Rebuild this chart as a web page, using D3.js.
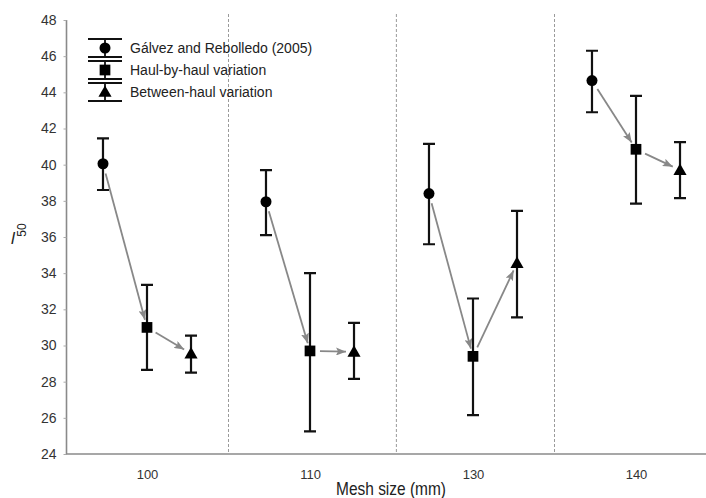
<!DOCTYPE html>
<html>
<head>
<meta charset="utf-8">
<script src="https://cdn.jsdelivr.net/npm/d3@7"></script>
<style>
  html, body { margin: 0; padding: 0; background: #fff; }
  svg { display: block; }
  text { font-family: "Liberation Sans", Arial, sans-serif; }
</style>
</head>
<body>
<svg id="chart" width="706" height="498"></svg>
<script>
// ---- data ----
const categories = ["100", "110", "130", "140"];
const seriesNames = ["Gálvez and Rebolledo (2005)", "Haul-by-haul variation", "Between-haul variation"];
const seriesSymbols = ["circle", "square", "triangle"];

const galvezMean = [40.05, 37.95, 38.40, 44.65];
const galvezLow  = [38.60, 36.10, 35.60, 42.90];
const galvezHigh = [41.45, 39.70, 41.15, 46.30];

const haulMean = [31.00, 29.70, 29.40, 40.85];
const haulLow  = [28.65, 25.25, 26.15, 37.85];
const haulHigh = [33.35, 34.00, 32.60, 43.80];

const betweenMean = [29.55, 29.65, 34.55, 39.70];
const betweenLow  = [28.50, 28.15, 31.55, 38.15];
const betweenHigh = [30.55, 31.25, 37.45, 41.25];

const yTicks = [24, 26, 28, 30, 32, 34, 36, 38, 40, 42, 44, 46, 48];
const separators = [0.5, 1.53, 2.5];
const seriesOffset = [-0.27, 0, 0.27];

// ---- layout ----
const svg = d3.select("#chart");
const x = d3.scaleLinear().domain([-0.5, 3.5]).range([65.5, 717.5]);
const y = d3.scaleLinear().domain([24, 48]).range([454, 20]);
const axisColor = "#8a8a8a";

const series = [
  { mean: galvezMean, low: galvezLow, high: galvezHigh },
  { mean: haulMean, low: haulLow, high: haulHigh },
  { mean: betweenMean, low: betweenLow, high: betweenHigh }
];

// separators
svg.append("g").selectAll("line").data(separators).join("line")
  .attr("x1", d => x(d)).attr("x2", d => x(d))
  .attr("y1", 14).attr("y2", y(24))
  .attr("stroke", "#9a9a9a").attr("stroke-width", 1)
  .attr("stroke-dasharray", "3,2");

// y axis
const yAxis = d3.axisLeft(y).tickValues(yTicks).tickSize(3).tickPadding(7).tickFormat(d3.format("d"));
const gy = svg.append("g").attr("transform", "translate(66.5,0)").call(yAxis);
gy.select(".domain").attr("stroke", axisColor).attr("stroke-width", 1.6).attr("d", `M0,${y(48)}V${y(24)}`);
gy.selectAll(".tick line").attr("stroke", "#aaa");
gy.selectAll(".tick text").attr("font-size", 14).attr("fill", "#333")
  .attr("font-family", "'Liberation Sans', Arial, sans-serif");

// x axis
const xAxis = d3.axisBottom(x).tickValues(d3.range(categories.length)).tickSize(0).tickPadding(16)
  .tickFormat(i => categories[i]);
const gx = svg.append("g").attr("transform", `translate(0,${y(24)})`).call(xAxis);
gx.select(".domain").attr("stroke", axisColor).attr("stroke-width", 1.6).attr("d", `M66,0H706`);
gx.selectAll(".tick text").attr("font-size", 13).attr("fill", "#333")
  .attr("font-family", "'Liberation Sans', Arial, sans-serif");

// axis titles
svg.append("text").attr("transform", "translate(391,495) scale(0.86,1)").attr("text-anchor", "middle")
  .attr("font-size", 18).attr("fill", "#222")
  .text("Mesh size (mm)");

const yl = svg.append("g").attr("transform", `translate(0,${y(36)})`);
yl.append("text").attr("x", 11).attr("y", 7).attr("font-size", 17).attr("font-style", "italic")
  .attr("fill", "#222").text("l");
yl.append("text").attr("transform", "translate(26,-7) rotate(-90)").attr("text-anchor", "middle")
  .attr("font-size", 12).attr("fill", "#222").text("50");

// arrows
const defs = svg.append("defs");
defs.append("marker").attr("id", "arrow").attr("viewBox", "0 0 10 8")
  .attr("refX", 10).attr("refY", 4).attr("markerWidth", 10).attr("markerHeight", 8)
  .attr("markerUnits", "userSpaceOnUse").attr("orient", "auto")
  .append("path").attr("d", "M0,0L10,4L0,8L2,4Z").attr("fill", "#888");

const arrows = [];
categories.forEach((c, i) => {
  for (let s = 0; s < 2; s++) {
    const x1 = x(i + seriesOffset[s]), y1 = y(series[s].mean[i]);
    const x2 = x(i + seriesOffset[s + 1]), y2 = y(series[s + 1].mean[i]);
    const L = Math.hypot(x2 - x1, y2 - y1);
    const ux = (x2 - x1) / L, uy = (y2 - y1) / L;
    const g0 = 10, g1 = 8;
    arrows.push({ x1: x1 + ux * g0, y1: y1 + uy * g0, x2: x2 - ux * g1, y2: y2 - uy * g1 });
  }
});
svg.append("g").selectAll("line").data(arrows).join("line")
  .attr("x1", d => d.x1).attr("y1", d => d.y1).attr("x2", d => d.x2).attr("y2", d => d.y2)
  .attr("stroke", "#888").attr("stroke-width", 1.8).attr("marker-end", "url(#arrow)");

// symbols
const symType = { circle: d3.symbolCircle, square: d3.symbolSquare, triangle: d3.symbolTriangle };
const symSize = { circle: 95, square: 115, triangle: 75 };
function symbolPath(name) { return d3.symbol().type(symType[name]).size(symSize[name])(); }

// error bars + markers
const capW = 6;
series.forEach((s, si) => {
  const g = svg.append("g");
  const pts = categories.map((c, i) => ({ cx: x(i + seriesOffset[si]), m: s.mean[i], lo: s.low[i], hi: s.high[i] }));
  g.selectAll("path.eb").data(pts).join("path").attr("class", "eb")
    .attr("d", d => `M${d.cx},${y(d.hi)}V${y(d.lo)}M${d.cx - capW},${y(d.hi)}H${d.cx + capW}M${d.cx - capW},${y(d.lo)}H${d.cx + capW}`)
    .attr("stroke", "#111").attr("stroke-width", 2.2).attr("fill", "none");
  g.selectAll("path.sym").data(pts).join("path").attr("class", "sym")
    .attr("transform", d => `translate(${d.cx},${y(d.m) + (seriesSymbols[si] === "triangle" ? 1 : 0)})`)
    .attr("d", symbolPath(seriesSymbols[si])).attr("fill", "#000");
});

// legend
const lg = svg.append("g");
seriesNames.forEach((name, i) => {
  const cy = 48 + i * 22;
  const cx = 105;
  lg.append("path")
    .attr("d", `M${cx},${cy - 9}V${cy + 9}M88,${cy - 9}H122M88,${cy + 9}H122`)
    .attr("stroke", "#111").attr("stroke-width", 1.8).attr("fill", "none");
  lg.append("path").attr("transform", `translate(${cx},${cy + (seriesSymbols[i] === "triangle" ? 1 : 0)})`)
    .attr("d", symbolPath(seriesSymbols[i])).attr("fill", "#000");
  lg.append("text").attr("x", 130).attr("y", cy + 5).attr("font-size", 14).attr("fill", "#222").text(name);
});
</script>
</body>
</html>
